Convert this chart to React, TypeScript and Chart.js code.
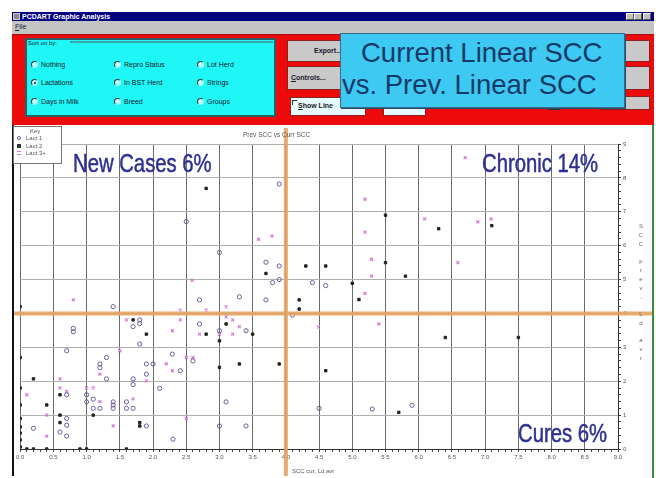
import React, { useEffect, useRef } from 'react';
import { Chart, registerables } from 'chart.js';

Chart.register(...registerables);

// ---------- data ----------
const lact1: [number, number][] = [
  [3.9, 7.82], [2.5, 6.71], [3.0, 5.8], [3.7, 5.51], [3.9, 5.4], [3.8, 4.91], [3.9, 5.0], [4.4, 4.91], [4.6, 4.82],
  [1.4, 4.2], [2.7, 4.4], [3.3, 4.49], [3.7, 4.4], [1.8, 3.81], [1.8, 3.7], [1.7, 3.61], [0.8, 3.56], [0.8, 3.46],
  [2.7, 3.69], [3.0, 3.49], [3.4, 3.49], [1.8, 3.1], [0.7, 2.9], [1.3, 2.7], [1.2, 2.51], [1.2, 2.4], [1.3, 2.07],
  [1.9, 2.51], [2.0, 2.51], [1.9, 2.21], [2.41, 2.31], [2.29, 2.8], [2.6, 2.6], [0.7, 1.6], [1.0, 1.6], [1.1, 1.47],
  [1.1, 1.2], [1.2, 1.2], [1.0, 1.39], [1.4, 1.39], [1.4, 1.3], [1.4, 1.2], [1.6, 1.39], [1.6, 1.2], [1.7, 1.2],
  [1.7, 2.07], [1.7, 1.9], [2.1, 1.79], [3.1, 1.39], [0.7, 0.9], [0.7, 0.7], [0.2, 0.61], [0.6, 0.5], [0.7, 0.38],
  [1.9, 0.68], [2.3, 0.29], [3.0, 0.68], [3.4, 0.68], [4.1, 3.95], [4.5, 1.2], [5.3, 1.18], [5.9, 1.29],
];
const lact2: [number, number][] = [
  [2.8, 7.69], [4.3, 5.4], [4.6, 5.4], [3.7, 5.18], [4.2, 4.4], [4.2, 4.13], [1.7, 3.81], [1.9, 3.39], [2.8, 3.39],
  [3.0, 3.19], [3.1, 3.69], [3.5, 3.39], [3.0, 2.41], [3.3, 2.51], [3.9, 2.51], [4.6, 2.31], [0.2, 2.07], [0.6, 1.6],
  [0.4, 1.3], [0.6, 1.0], [0.6, 0.78], [1.1, 1.0], [1.8, 0.78], [1.8, 0.68], [5.5, 6.9], [7.1, 6.59], [6.3, 6.5],
  [5.5, 5.5], [5.8, 5.1], [5.0, 4.89], [5.1, 4.41], [6.4, 3.29], [7.5, 3.29], [5.7, 1.08], [0.0, 4.2],
  [0.0, 0.06], [0.0, 0.27], [0.0, 0.47], [0.0, 0.65], [0.0, 0.9], [0.0, 1.3], [0.0, 1.8], [0.0, 2.7],
  [0.1, 0.0], [0.2, 0.0], [0.4, 0.0], [0.9, 0.0], [1.0, 0.0], [1.6, 0.0],
];
const lact3: [number, number][] = [
  [3.59, 6.19], [3.79, 6.28], [2.59, 4.98], [0.8, 4.4], [3.1, 4.19], [2.41, 4.1], [2.8, 4.1], [1.6, 3.81], [2.41, 3.81],
  [2.29, 3.49], [2.7, 3.39], [3.0, 3.39], [3.1, 3.9], [3.2, 3.81], [3.2, 3.39], [3.3, 3.61], [1.5, 2.9], [1.2, 2.21],
  [1.9, 2.01], [2.2, 2.51], [2.29, 2.31], [2.5, 2.7], [2.6, 2.7], [0.6, 2.07], [0.6, 1.8], [0.7, 1.7], [0.1, 1.6],
  [1.0, 1.8], [1.1, 1.8], [1.2, 1.4], [1.7, 1.48], [0.4, 1.0], [0.4, 0.38], [1.4, 0.68], [2.5, 0.9], [4.49, 3.6],
  [6.7, 8.6], [5.19, 7.37], [6.09, 6.79], [6.89, 6.7], [7.09, 6.79], [5.19, 6.4], [5.29, 5.6], [6.59, 5.5],
  [5.29, 5.1], [5.19, 4.59], [5.4, 3.69],
];
const seriesNames = ['Lact 1', 'Lact 2', 'Lact 3+'];
const xRange = [0, 9];
const yRange = [0, 9];
const cutX = 4;
const cutY = 4;
const chartTitle = 'Prev SCC vs Curr SCC';
const xTitle = 'SCC cur, Ld avr';
const yTitle = 'SCC prev, Ld avr';
const radioCols = [
  ['Nothing', 'Lactations', 'Days in Milk'],
  ['Repro Status', 'In BST Herd', 'Breed'],
  ['Lot Herd', 'Strings', 'Groups'],
];

const FONT = "'Liberation Sans', Arial, sans-serif";
const toXY = (a: [number, number][]) => a.map(([x, y]) => ({ x, y }));
const isMult = (v: number, s: number) => Math.abs(v / s - Math.round(v / s)) < 1e-6;

const cutLines = {
  id: 'cutLines',
  afterDatasetsDraw(chart: any) {
    const { ctx, width, height } = chart;
    const px = chart.scales.x.getPixelForValue(cutX);
    const py = chart.scales.y.getPixelForValue(cutY);
    ctx.save();
    ctx.strokeStyle = 'rgba(226,162,98,0.9)';
    ctx.lineWidth = 4;
    ctx.beginPath();
    ctx.moveTo(px, 3);
    ctx.lineTo(px, height);
    ctx.moveTo(0, py);
    ctx.lineTo(width, py);
    ctx.stroke();
    ctx.restore();
  },
};

const abs = (l: number, t: number, w: number, h: number, extra: any = {}) => ({
  position: 'absolute' as const, left: l, top: t, width: w, height: h, boxSizing: 'border-box' as const, ...extra,
});

function Radio({ checked }: { checked?: boolean }) {
  return (
    <div style={{
      width: 7, height: 7, borderRadius: '50%', boxSizing: 'border-box', border: '1px solid',
      borderColor: '#333 #9ff #9ff #333', position: 'relative', background: '#bff',
    }}>
      {checked && <div style={{ position: 'absolute', left: 1.5, top: 1.5, width: 2, height: 2, borderRadius: '50%', background: '#222' }} />}
    </div>
  );
}

export default function App() {
  const ref = useRef<HTMLCanvasElement>(null);
  useEffect(() => {
    if (!ref.current) return;
    const tickFont = { size: 6, family: FONT };
    const chart = new Chart(ref.current, {
      type: 'scatter',
      data: {
        datasets: [
          { label: seriesNames[0], data: toXY(lact1), pointStyle: 'circle', radius: 2.1, borderColor: '#6e5c94', backgroundColor: 'rgba(0,0,0,0)', borderWidth: 1 },
          { label: seriesNames[1], data: toXY(lact2), pointStyle: 'rect', radius: 1.7, borderColor: '#222', backgroundColor: '#222', borderWidth: 1 },
          { label: seriesNames[2], data: toXY(lact3), pointStyle: 'crossRot', radius: 2.1, borderColor: '#d47ad8', backgroundColor: '#d47ad8', borderWidth: 1.2 },
        ],
      } as any,
      options: {
        animation: false,
        responsive: false,
        maintainAspectRatio: false,
        events: [],
        layout: { padding: { left: 6, top: 19, right: 0, bottom: 0 } },
        plugins: { legend: { display: false }, title: { display: false }, tooltip: { enabled: false } },
        scales: {
          x: {
            type: 'linear', position: 'bottom', min: xRange[0], max: xRange[1],
            afterFit: (s: any) => { s.height = 27; },
            ticks: {
              stepSize: 0.1, autoSkip: false, maxRotation: 0, padding: 2, font: tickFont, color: '#555',
              callback: (v: any) => (isMult(Number(v), 0.5) ? Number(v).toFixed(1) : ''),
            },
            grid: {
              color: (c: any) => (c.tick && isMult(c.tick.value, 0.5) ? '#6a6a6a' : 'rgba(0,0,0,0)'),
              lineWidth: 1, tickLength: 3, tickColor: '#444', drawTicks: true,
            },
            border: { color: '#333', width: 1 },
          },
          y: {
            type: 'linear', position: 'right', min: yRange[0], max: yRange[1],
            afterFit: (s: any) => { s.width = 34; },
            ticks: {
              stepSize: 0.2, autoSkip: false, padding: 2, font: tickFont, color: '#555',
              callback: (v: any) => (isMult(Number(v), 1) ? String(Math.round(Number(v))) : ''),
            },
            grid: {
              color: (c: any) => (c.tick && isMult(c.tick.value, 1) ? '#b0b0b0' : 'rgba(0,0,0,0)'),
              lineWidth: 1, tickLength: 3, tickColor: '#444', drawTicks: true,
            },
            border: { color: '#333', width: 1 },
          },
        },
      } as any,
      plugins: [cutLines],
    });
    return () => chart.destroy();
  }, []);

  const uiText = { fontFamily: FONT, fontSize: 7, color: '#1a1a2a', lineHeight: '8px', whiteSpace: 'nowrap' as const };
  const bigNote = {
    fontFamily: FONT, fontSize: 26, lineHeight: '26px', color: '#2e3192', whiteSpace: 'nowrap' as const,
    transform: 'scaleX(0.78)', transformOrigin: 'left top', WebkitTextStroke: '0.5px #2e3192',
  };

  return (
    <div style={{ position: 'absolute', left: 0, top: 0, width: 656, height: 478, background: '#fff', overflow: 'hidden' }}>
      {/* title bar */}
      <div style={abs(12, 12, 642, 9, { background: '#000080' })} />
      <div style={abs(13, 13, 7, 7, { background: '#8a8a8a', border: '1px solid #ccc' })} />
      <div style={abs(22, 12, 200, 9, { fontFamily: FONT, fontSize: 7, fontWeight: 'bold', color: '#fff', lineHeight: '9px', whiteSpace: 'nowrap' })}>PCDART Graphic Analysis</div>
      {[626, 634, 643].map((l) => (
        <div key={l} style={abs(l, 13, 8, 7, { background: '#c0c0c0', border: '1px solid', borderColor: '#fff #555 #555 #fff' })} />
      ))}
      {/* menu bar */}
      <div style={abs(12, 21, 642, 13, { background: '#c4c4c4' })} />
      <div style={abs(15, 23, 30, 9, { ...uiText })}><u>F</u>ile</div>
      {/* red panel */}
      <div style={abs(12, 34, 642, 91, { background: '#ec0a0a', borderTop: '1px solid #a01010' })} />
      {/* sort group */}
      <div style={abs(25, 38, 251, 79, { background: '#1ff7f7', border: '2px solid #2c5f66' })} />
      <div style={abs(70, 41, 203, 2, { background: '#3aa7a8' })} />
      <div style={abs(28, 39, 45, 8, { ...uiText, fontSize: 6 })}>Sort on by:</div>
      {radioCols.map((col, ci) =>
        col.map((lab, ri) => (
          <div key={lab} style={abs([31, 114, 197][ci], [60, 78, 97][ri], 80, 9, { display: 'flex', alignItems: 'center', gap: 3 })}>
            <Radio checked={ci === 0 && ri === 1} />
            <span style={{ ...uiText }}>{lab}</span>
          </div>
        ))
      )}
      {/* buttons */}
      <div style={abs(287, 40, 60, 22, { background: '#c9c9c9', border: '1px solid #8a2020' })} />
      <div style={abs(314, 47, 40, 9, { ...uiText, fontWeight: 'bold' })}>Export...</div>
      <div style={abs(287, 66, 60, 24, { background: '#c9c9c9', border: '1px solid #8a2020' })} />
      <div style={abs(291, 74, 50, 9, { ...uiText, fontWeight: 'bold' })}><u>C</u>ontrols...</div>
      <div style={abs(290, 97, 76, 19, { background: '#e6fbfb', border: '1px solid #8a2020' })} />
      <div style={abs(292, 100, 5, 5, { borderTop: '1px solid #333', borderLeft: '1px solid #333' })} />
      <div style={abs(298, 102, 40, 9, { ...uiText, fontWeight: 'bold' })}><u>S</u>how Line</div>
      <div style={abs(383, 97, 43, 19, { background: '#e6fbfb', border: '1px solid #8a2020' })} />
      <div style={abs(397, 102, 20, 9, { ...uiText, fontSize: 6 })}>A-1</div>
      <div style={abs(600, 40, 50, 22, { background: '#c9c9c9', border: '1px solid #8a2020' })} />
      <div style={abs(600, 66, 50, 24, { background: '#c9c9c9', border: '1px solid #8a2020' })} />
      <div style={abs(600, 96, 50, 14, { background: '#c9c9c9', border: '1px solid #8a2020' })} />
      <div style={abs(548, 106, 12, 4, { background: '#333' })} />
      {/* overlay heading */}
      <div style={abs(340, 33, 285, 75, { background: '#3dc9f1', border: '1px solid #3a6a8a', boxShadow: '1px 1px 0 #2a4a6a' })} />
      <div style={abs(361, 37, 260, 32, { fontFamily: FONT, fontSize: 27.5, lineHeight: '31.5px', color: '#163a68', whiteSpace: 'nowrap' })}>Current Linear SCC</div>
      <div style={abs(342, 68.5, 280, 32, { fontFamily: FONT, fontSize: 27.5, lineHeight: '31.5px', color: '#163a68', whiteSpace: 'nowrap' })}>vs. Prev. Linear SCC</div>
      {/* chart frame */}
      <div style={abs(12, 125, 2, 351, { background: '#111' })} />
      <div style={abs(652, 125, 2, 353, { background: '#3c8c3c' })} />
      <canvas ref={ref} width={638} height={351} style={{ position: 'absolute', left: 14, top: 125, width: 638, height: 351 }} />
      {/* chart texts */}
      <div style={abs(243, 131, 90, 8, { ...uiText, fontSize: 6.5, color: '#555' })}>{chartTitle}</div>
      <div style={abs(292, 467, 70, 8, { ...uiText, fontSize: 6, color: '#555' })}>{xTitle}</div>
      <div style={abs(637, 222, 8, 150, { fontFamily: FONT, fontSize: 6, lineHeight: '8.8px', color: '#666', textAlign: 'center', whiteSpace: 'pre-wrap', wordBreak: 'break-all' })}>
        {yTitle.split('').join('\n')}
      </div>
      {/* legend */}
      <div style={abs(13, 126, 49, 38, { background: '#fff', border: '1px solid #777' })} />
      <div style={abs(30, 127, 20, 8, { ...uiText, fontSize: 6, color: '#555' })}>Key</div>
      {seriesNames.map((n, i) => (
        <div key={n} style={abs(17, 134 + i * 7.5, 45, 8, { display: 'flex', alignItems: 'center', gap: 5 })}>
          <div style={{
            width: 4, height: 4, boxSizing: 'border-box',
            ...(i === 0 ? { border: '1px solid #6e5c94', borderRadius: '50%' } : i === 1 ? { background: '#333' } : { borderTop: '1px solid #d47ad8', borderBottom: '1px solid #d47ad8' }),
          }} />
          <span style={{ ...uiText, fontSize: 6, color: '#555' }}>{n}</span>
        </div>
      ))}
      {/* quadrant notes */}
      <div style={abs(72.5, 150, 200, 26, bigNote)}>New Cases 6%</div>
      <div style={abs(481.5, 150, 200, 26, bigNote)}>Chronic 14%</div>
      <div style={abs(517.5, 419.5, 200, 26, bigNote)}>Cures 6%</div>
    </div>
  );
}
